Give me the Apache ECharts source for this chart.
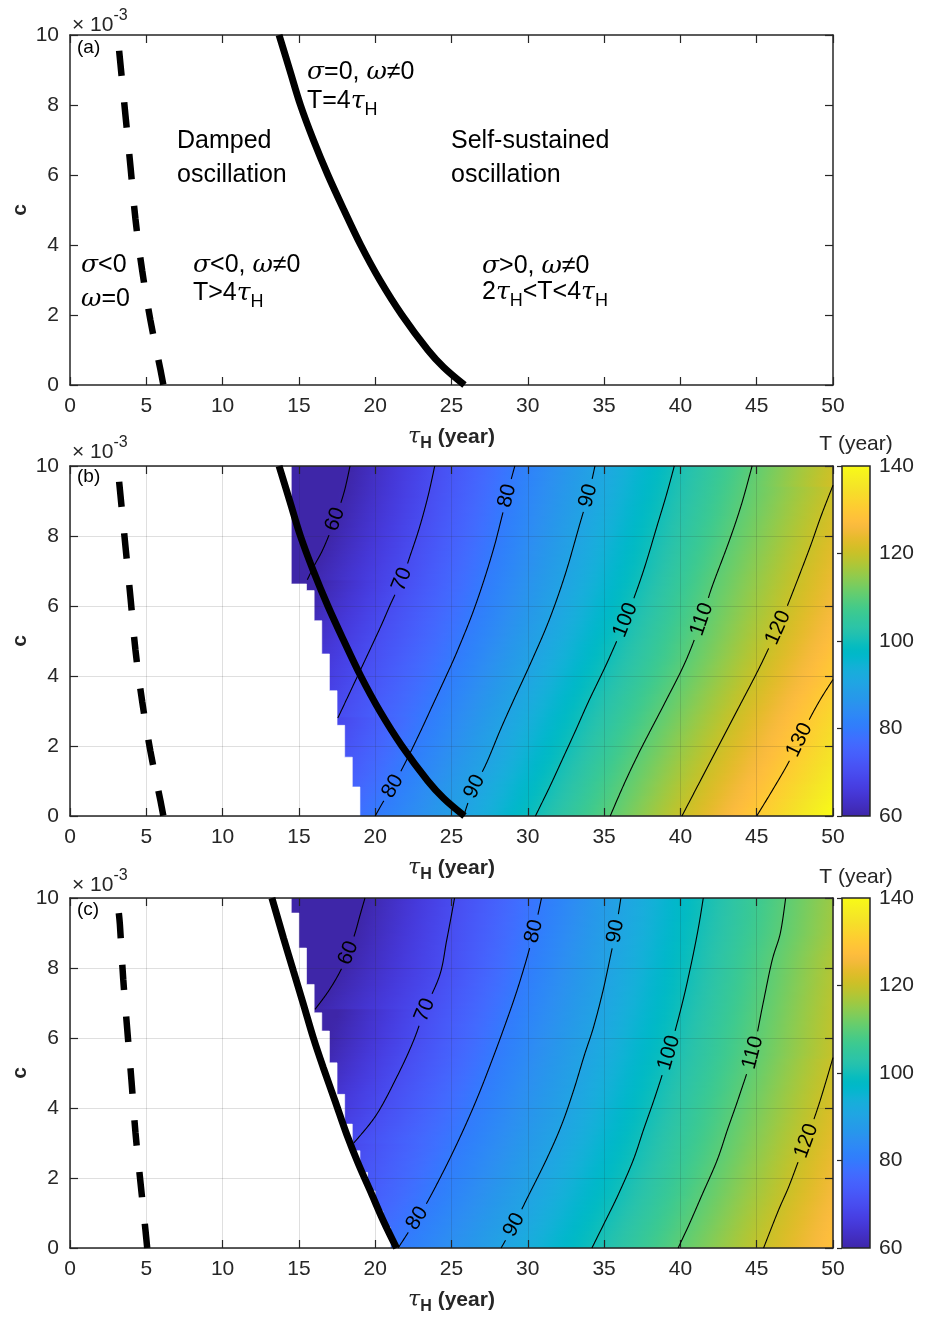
<!DOCTYPE html>
<html><head><meta charset="utf-8">
<script src="https://cdn.jsdelivr.net/npm/echarts@6.0.0/dist/echarts.min.js"></script>
<style>html,body{margin:0;padding:0;background:#fff}#chart{width:925px;height:1320px}</style>
</head><body><div id="chart"></div>
<script>
// ================= DATA =================
const tauTicksStep = 5;           // x ticks 0..50
const cTicksStep = 2;             // y ticks 0..10 (x 10^-3)
const cbarTicks = [60, 80, 100, 120, 140];

// boundary curves [tauH, c]
const dashedAB = [[3.22,9.55],[3.31,9.15],[3.64,7.68],[3.97,6.21],[4.29,4.74],[4.73,3.27],[5.27,1.85],[5.93,0.43],[6.12,0]];
const solidAB  = [[13.7,10],[14.4,9.0],[15.1,8.0],[15.95,7.0],[16.9,6.0],[17.95,5.0],[19.05,4.0],[20.3,3.0],[21.75,2.0],[23.45,1.0],[24.5,0.5],[25.85,0]];
const dashedC  = [[3.2,9.57],[3.27,9.24],[3.49,7.67],[3.75,6.25],[4.03,4.77],[4.29,3.3],[4.62,1.87],[4.95,0.49],[5.06,0]];
const solidC   = [[13.23,10],[13.99,8.86],[14.65,7.9],[15.3,6.96],[15.95,6.0],[16.6,5.15],[17.37,4.2],[18.13,3.25],[18.9,2.4],[19.77,1.54],[20.53,0.78],[21.4,0]];

// contour lines of T (year) in panel (b)
const contB60  = [[18.35,10],[18.05,9.4],[17.75,8.95],[17.37,8.48],[16.95,8.0],[16.5,7.55],[16.0,7.15],[15.55,6.75]];
const contB70  = [[23.9,10],[23.55,9.3],[23.2,8.7],[22.8,8.1],[22.3,7.45],[21.75,6.76],[21.0,6.05],[20.4,5.45],[19.6,4.7],[18.9,4.05],[18.2,3.4],[17.55,2.8]];
const contB80  = [[29.15,10],[28.9,9.6],[28.65,9.15],[28.3,8.55],[27.8,7.7],[27.1,6.7],[26.3,5.7],[25.3,4.63],[24.65,4.0],[23.8,3.2],[22.95,2.4],[22.0,1.55],[21.15,0.85],[20.45,0.35],[20.0,0]];
const contB90  = [[34.4,10],[34.2,9.6],[33.95,9.15],[33.4,8.33],[32.45,6.9],[31.4,5.6],[30.25,4.43],[29.05,3.29],[28.2,2.46],[27.28,1.5],[26.5,0.84],[26.1,0.4],[25.8,0]];
const contB100 = [[39.6,10],[39.1,9.2],[38.5,8.33],[37.5,6.9],[36.4,5.6],[35.25,4.43],[34.0,3.29],[33.15,2.46],[32.3,1.65],[31.4,0.8],[30.5,0]];
const contB110 = [[44.7,10],[44.0,8.9],[43.2,7.86],[42.05,6.52],[41.4,5.62],[40.35,4.43],[39.0,3.25],[37.45,1.95],[36.4,1.0],[35.4,0]];
const contB120 = [[50,9.45],[49.2,8.55],[48.4,7.57],[47.05,6.05],[46.4,5.38],[45.6,4.62],[44.9,4.0],[43.7,3.0],[42.5,2.0],[41.3,1.0],[40.1,0]];
const contB130 = [[50,3.9],[49.2,3.35],[48.5,2.8],[47.8,2.17],[47.05,1.5],[46.05,0.75],[45.0,0]];
const labelsB  = [[17.37,8.48,'60'],[21.75,6.76,'70'],[28.65,9.15,'80'],[33.95,9.15,'90'],[21.15,0.85,'80'],[26.5,0.84,'90'],[36.4,5.6,'100'],[41.4,5.62,'110'],[46.4,5.38,'120'],[47.8,2.17,'130']];

// contour lines of T (year) in panel (c)
const contC60  = [[19.33,10],[19.0,9.5],[18.68,9.0],[18.24,8.43],[17.7,7.9],[16.94,7.34],[16.06,6.82]];
const contC70  = [[25.2,10],[24.95,9.4],[24.67,8.76],[24.24,7.81],[23.25,6.8],[22.5,5.91],[21.5,4.96],[20.1,3.82],[18.6,3.0]];
const contC80  = [[30.9,10],[30.65,9.5],[30.4,9.05],[29.95,8.3],[29.25,7.3],[28.45,6.3],[27.6,5.3],[26.7,4.3],[25.7,3.3],[24.6,2.3],[23.4,1.3],[22.75,0.85],[22.1,0.4],[21.5,0]];
const contC90  = [[36.1,10],[35.75,9.05],[35.4,8.3],[34.9,7.3],[34.3,6.3],[33.7,5.5],[33.0,4.5],[32.2,3.5],[31.2,2.51],[29.9,1.37],[29.1,0.66],[28.25,0]];
const contC100 = [[41.5,10],[41.2,9.2],[40.75,8.2],[40.1,6.95],[39.25,5.58],[38.4,4.4],[37.6,3.4],[36.9,2.5],[35.9,1.5],[35.0,0.7],[34.2,0]];
const contC110 = [[46.9,10],[46.55,9.0],[46.0,8.2],[45.4,6.95],[44.75,5.58],[43.9,4.4],[43.1,3.4],[42.4,2.5],[41.4,1.5],[40.6,0.7],[39.85,0]];
const contC120 = [[50,5.44],[49.5,4.7],[49.0,4.0],[48.25,3.06],[47.75,2.5],[47.1,1.75],[46.4,1.05],[45.45,0]];
const labelsC  = [[18.24,8.43,'60'],[23.25,6.8,'70'],[30.4,9.05,'80'],[35.75,9.05,'90'],[22.75,0.85,'80'],[29.1,0.66,'90'],[39.25,5.58,'100'],[44.75,5.58,'110'],[48.25,3.06,'120']];

// region with no oscillation data (white): column left edge tauH and lowest coloured c
const maskTauB  = [14.5, 15.5, 16.0, 16.5, 17.0, 17.5, 18.0, 18.5, 19.0];
const maskCminB = [6.63, 6.44, 5.58, 4.63, 3.58, 2.59, 1.68, 0.83, 0.0];
const maskTauC  = [14.5, 15.0, 15.5, 16.0, 16.5, 17.0, 17.5, 18.0, 18.5, 19.0, 19.5, 20.0, 20.5, 21.0];
const maskCminC = [9.57, 8.57, 7.53, 6.72, 6.2, 5.29, 4.39, 3.54, 2.78, 2.16, 1.63, 1.06, 0.59, 0.0];

const contoursB = {60:contB60, 70:contB70, 80:contB80, 90:contB90, 100:contB100, 110:contB110, 120:contB120, 130:contB130};
const contoursC = {60:contC60, 70:contC70, 80:contC80, 90:contC90, 100:contC100, 110:contC110, 120:contC120};

// ================= STYLE =================
const PARULA = [[0.2422,0.1504,0.6603],[0.2504,0.1650,0.7076],[0.2578,0.1818,0.7511],[0.2647,0.1978,0.7952],[0.2706,0.2147,0.8364],[0.2751,0.2342,0.8710],[0.2783,0.2559,0.8991],[0.2803,0.2782,0.9221],[0.2813,0.3006,0.9414],[0.2810,0.3228,0.9579],[0.2795,0.3447,0.9717],[0.2760,0.3667,0.9829],[0.2699,0.3892,0.9906],[0.2602,0.4123,0.9952],[0.2440,0.4358,0.9988],[0.2206,0.4603,0.9973],[0.1963,0.4847,0.9892],[0.1834,0.5074,0.9798],[0.1786,0.5289,0.9682],[0.1764,0.5499,0.9520],[0.1687,0.5703,0.9359],[0.1540,0.5902,0.9218],[0.1460,0.6091,0.9079],[0.1380,0.6276,0.8973],[0.1248,0.6459,0.8883],[0.1113,0.6635,0.8763],[0.0952,0.6798,0.8598],[0.0689,0.6948,0.8394],[0.0297,0.7082,0.8163],[0.0036,0.7203,0.7917],[0.0067,0.7312,0.7660],[0.0433,0.7411,0.7394],[0.0964,0.7500,0.7120],[0.1408,0.7584,0.6842],[0.1717,0.7670,0.6554],[0.1938,0.7758,0.6251],[0.2161,0.7843,0.5923],[0.2470,0.7918,0.5567],[0.2906,0.7973,0.5188],[0.3406,0.8008,0.4789],[0.3909,0.8029,0.4354],[0.4456,0.8024,0.3909],[0.5044,0.7993,0.3480],[0.5616,0.7942,0.3045],[0.6174,0.7876,0.2612],[0.6720,0.7793,0.2227],[0.7242,0.7698,0.1910],[0.7738,0.7598,0.1646],[0.8203,0.7498,0.1535],[0.8634,0.7406,0.1596],[0.9035,0.7330,0.1774],[0.9393,0.7288,0.2100],[0.9728,0.7298,0.2394],[0.9956,0.7434,0.2371],[0.9970,0.7659,0.2199],[0.9952,0.7893,0.2028],[0.9892,0.8136,0.1885],[0.9786,0.8386,0.1766],[0.9676,0.8639,0.1643],[0.9610,0.8890,0.1537],[0.9597,0.9135,0.1423],[0.9628,0.9373,0.1265],[0.9691,0.9606,0.1064],[0.9769,0.9839,0.0805]];
const T_MIN = 60, T_MAX = 140;
function parula(T) {
  let f = (T - T_MIN) / (T_MAX - T_MIN);
  f = Math.min(1, Math.max(0, f));
  const x = f * 63, i = Math.min(62, Math.floor(x)), t = x - i;
  const a = PARULA[i], b = PARULA[i + 1];
  return 'rgb(' + [0,1,2].map(k => Math.round(255 * (a[k] + (b[k] - a[k]) * t))).join(',') + ')';
}
const sans = '"Liberation Sans", Arial, Helvetica, sans-serif';
const serif = '"DejaVu Serif", "Liberation Serif", serif';
const AX = '#262626';
const mctx = document.createElement('canvas').getContext('2d');
function measure(text, font) { mctx.font = font; return mctx.measureText(text).width; }
function txtEl(x, y, text, font, align, fill, extra) {
  return Object.assign({type:'text', x:x, y:y, z:10, silent:true,
    style:{text:text, font:font, fill:fill || '#000', align:align || 'left', textAlign:align || 'left', verticalAlign:'middle', textVerticalAlign:'middle'}}, extra || {});
}
// composite text (for Greek letters and subscripts): parts [text, font, dy]
function seq(x, y, parts, anchor, fill) {
  const w = parts.map(p => measure(p[0], p[1]));
  const total = w.reduce((a, b) => a + b, 0);
  let cx = anchor === 'center' ? x - total / 2 : x;
  return parts.map((p, i) => { const el = txtEl(cx, y + (p[2] || 0), p[0], p[1], 'left', fill); cx += w[i]; return el; });
}

// ================= LAYOUT =================
const panelTop = [35, 466, 898];
const plotLeft = 70, plotW = 763, plotH = 350;
const cbarLeft = 842, cbarW = 28;

const grids = panelTop.map(t => ({left:plotLeft, top:t, width:plotW, height:plotH, containLabel:false, outerBoundsMode:'none', show:false}));
grids.push({left:cbarLeft, top:panelTop[1], width:cbarW, height:plotH, containLabel:false, outerBoundsMode:'none', show:false});
grids.push({left:cbarLeft, top:panelTop[2], width:cbarW, height:plotH, containLabel:false, outerBoundsMode:'none', show:false});

const xAxes = [], yAxes = [];
const axLine = {show:true, onZero:false, lineStyle:{color:AX, width:1.5}};
const axTick = {show:true, inside:true, length:8, lineStyle:{color:AX, width:1.2}};
const axLab = {show:true, fontSize:21, color:AX, fontFamily:sans, showMinLabel:true, showMaxLabel:true, hideOverlap:false};
for (let p = 0; p < 3; p++) {
  const split = {show: p > 0, lineStyle:{color:'rgba(38,38,38,0.15)', width:1}};
  xAxes.push({gridIndex:p, type:'value', min:0, max:50, interval:tauTicksStep, position:'bottom', axisLine:axLine, axisTick:axTick, axisLabel:Object.assign({margin:11}, axLab), splitLine:split, z:3});
  xAxes.push({gridIndex:p, type:'value', min:0, max:50, interval:tauTicksStep, position:'top', axisLine:axLine, axisTick:axTick, axisLabel:{show:false}, splitLine:{show:false}, z:3});
  yAxes.push({gridIndex:p, type:'value', min:0, max:10, interval:cTicksStep, position:'left', axisLine:axLine, axisTick:axTick, axisLabel:Object.assign({margin:11}, axLab), splitLine:split, z:3});
  yAxes.push({gridIndex:p, type:'value', min:0, max:10, interval:cTicksStep, position:'right', axisLine:axLine, axisTick:axTick, axisLabel:{show:false}, splitLine:{show:false}, z:3});
}
for (let g = 3; g < 5; g++) {
  xAxes.push({gridIndex:g, type:'value', min:0, max:1, show:false});
  yAxes.push({gridIndex:g, type:'value', min:cbarTicks[0], max:cbarTicks[cbarTicks.length-1], interval:cbarTicks[1]-cbarTicks[0], position:'right',
    axisLine:{show:false}, axisTick:{show:true, inside:true, length:5, lineStyle:{color:AX, width:1.2}},
    axisLabel:Object.assign({margin:9}, axLab), splitLine:{show:false}, z:3});
}

// ================= SERIES BUILDERS =================
function lineS(p, data, dashed) {
  return {type:'line', xAxisIndex:2*p, yAxisIndex:2*p, data:data, symbol:'none', showSymbol:false, silent:true, z:5, smooth:0.35,
    lineStyle:{color:'#000', width: dashed ? 6.5 : 7, type: dashed ? [25, 27] : 'solid', cap:'butt'}};
}
function crossAt(poly, c) {
  for (let i = 0; i < poly.length - 1; i++) {
    const a = poly[i], b = poly[i + 1];
    if ((a[1] - c) * (b[1] - c) <= 0 && a[1] !== b[1]) return a[0] + (b[0] - a[0]) * (c - a[1]) / (b[1] - a[1]);
  }
  return null;
}
// colour field drawn as thin horizontal strips whose colour follows the contour crossings
function fillS(p, contours) {
  return {type:'custom', xAxisIndex:2*p, yAxisIndex:2*p, data:[[0,0]], silent:true, z:1, clip:true,
    renderItem: function (params, api) {
      const children = [];
      const N = 120;
      const x0 = api.coord([0, 0])[0], x1 = api.coord([50, 0])[0];
      for (let i = 0; i < N; i++) {
        const cLo = 10 * i / N, cHi = 10 * (i + 1) / N, cm = (cLo + cHi) / 2;
        const knots = [];
        Object.keys(contours).forEach(lv => { const t = crossAt(contours[lv], cm); if (t !== null) knots.push([t, +lv]); });
        knots.sort((a, b) => a[0] - b[0]);
        if (knots.length < 2) continue;
        const Tat = tau => {
          let j = 0;
          if (tau <= knots[0][0]) j = 0;
          else if (tau >= knots[knots.length - 1][0]) j = knots.length - 2;
          else { while (!(tau >= knots[j][0] && tau <= knots[j + 1][0])) j++; }
          const a = knots[j], b = knots[j + 1];
          return a[1] + (b[1] - a[1]) * (tau - a[0]) / (b[0] - a[0]);
        };
        const stops = [];
        const S = 100;
        for (let s = 0; s <= S; s++) stops.push({offset: s / S, color: parula(Tat(50 * s / S))});
        const yTop = api.coord([0, cHi])[1], yBot = api.coord([0, cLo])[1];
        children.push({type:'rect', shape:{x:x0, y:yTop - 0.4, width:x1 - x0, height:yBot - yTop + 0.8},
          style:{fill:{type:'linear', x:0, y:0, x2:1, y2:0, colorStops:stops}}});
      }
      return {type:'group', children:children};
    }};
}
function maskS(p, taus, cmins) {
  return {type:'custom', xAxisIndex:2*p, yAxisIndex:2*p, data:[[0,0]], silent:true, z:2,
    renderItem: function (params, api) {
      const pts = [[0, 0], [0, 10], [taus[0], 10]];
      for (let i = 0; i < taus.length; i++) {
        pts.push([taus[i], cmins[i]]);
        if (i + 1 < taus.length) pts.push([taus[i + 1], cmins[i]]);
      }
      pts.push([taus[taus.length - 1], 0]);
      return {type:'polygon', shape:{points: pts.map(q => api.coord(q))}, style:{fill:'#fff', stroke:'#fff', lineWidth:0.6}};
    }};
}
// Catmull-Rom densification in pixel space (smooth drawing of the read contour points)
function densify(pix) {
  const out = [];
  for (let i = 0; i < pix.length - 1; i++) {
    const p0 = pix[Math.max(0, i - 1)], p1 = pix[i], p2 = pix[i + 1], p3 = pix[Math.min(pix.length - 1, i + 2)];
    const n = Math.max(2, Math.ceil(Math.hypot(p2[0] - p1[0], p2[1] - p1[1])));
    for (let k = 0; k < n; k++) {
      const t = k / n, t2 = t * t, t3 = t2 * t;
      const f = j => 0.5 * ((2 * p1[j]) + (-p0[j] + p2[j]) * t + (2 * p0[j] - 5 * p1[j] + 4 * p2[j] - p3[j]) * t2 + (-p0[j] + 3 * p1[j] - 3 * p2[j] + p3[j]) * t3);
      out.push([f(0), f(1)]);
    }
  }
  out.push(pix[pix.length - 1]);
  return out;
}
const lblFont = '21px ' + sans;
function contS(p, contours, labels) {
  return {type:'custom', xAxisIndex:2*p, yAxisIndex:2*p, data:[[0,0]], silent:true, z:4,
    renderItem: function (params, api) {
      const children = [];
      Object.keys(contours).forEach(lv => {
        const dense = densify(contours[lv].map(q => api.coord(q)));
        const keep = dense.map(() => true);
        labels.filter(l => l[2] === lv).forEach(l => {
          const lp = api.coord([l[0], l[1]]);
          let bi = 0, bd = Infinity;
          dense.forEach((q, i) => { const d = Math.hypot(q[0] - lp[0], q[1] - lp[1]); if (d < bd) { bd = d; bi = i; } });
          const c0 = dense[bi];
          const pa = dense[Math.max(0, bi - 8)], pb = dense[Math.min(dense.length - 1, bi + 8)];
          let ang = Math.atan2(-(pb[1] - pa[1]), pb[0] - pa[0]);
          if (ang > Math.PI / 2) ang -= Math.PI;
          if (ang < -Math.PI / 2) ang += Math.PI;
          const r = measure(l[2], lblFont) / 2 + 5;
          dense.forEach((q, i) => { if (Math.hypot(q[0] - c0[0], q[1] - c0[1]) < r) keep[i] = false; });
          children.push({type:'text', x:c0[0], y:c0[1], rotation:ang,
            style:{text:l[2], font:lblFont, fill:'#000', align:'center', textAlign:'center', verticalAlign:'middle', textVerticalAlign:'middle'}});
        });
        let run = [];
        const flush = () => { if (run.length > 1) children.push({type:'polyline', shape:{points:run}, style:{stroke:'#000', lineWidth:1.1, fill:null}}); run = []; };
        dense.forEach((q, i) => { if (keep[i]) run.push(q); else flush(); });
        flush();
      });
      return {type:'group', children:children};
    }};
}
function cbarS(axisIdx) {
  return {type:'custom', xAxisIndex:axisIdx, yAxisIndex:axisIdx, data:[[0,0]], silent:true, z:1,
    renderItem: function (params, api) {
      const a = api.coord([0, T_MAX]), b = api.coord([1, T_MIN]);
      const stops = PARULA.map((c, i) => ({offset: i / 63, color: 'rgb(' + c.map(v => Math.round(v * 255)).join(',') + ')'}));
      return {type:'rect', shape:{x:a[0], y:a[1], width:b[0] - a[0], height:b[1] - a[1]},
        style:{fill:{type:'linear', x:0, y:1, x2:0, y2:0, colorStops:stops}, stroke:AX, lineWidth:1.5}};
    }};
}

const series = [
  lineS(0, dashedAB, true), lineS(0, solidAB, false),
  fillS(1, contoursB), maskS(1, maskTauB, maskCminB), contS(1, contoursB, labelsB), lineS(1, dashedAB, true), lineS(1, solidAB, false),
  fillS(2, contoursC), maskS(2, maskTauC, maskCminC), contS(2, contoursC, labelsC), lineS(2, dashedC, true), lineS(2, solidC, false),
  cbarS(6), cbarS(7)
];

// ================= TEXT =================
const G = s => 'italic ' + s + 'px ' + serif;
const Nf = s => s + 'px ' + sans;
const Bf = s => 'bold ' + s + 'px ' + sans;
const ann = 25, word = 25, sub = 18, subDy = 9;
let texts = [];
// panel (a) region annotations
texts = texts.concat(
  seq(307, 72, [['σ', G(ann)], ['=0, ', Nf(ann)], ['ω', G(ann)], ['≠0', Nf(ann)]]),
  seq(307, 101, [['T=4', Nf(ann)], ['τ', G(ann)], ['H', Nf(sub), subDy]]),
  [txtEl(177, 141, 'Damped', Nf(word)), txtEl(177, 175, 'oscillation', Nf(word)),
   txtEl(451, 141, 'Self-sustained', Nf(word)), txtEl(451, 175, 'oscillation', Nf(word))],
  seq(81, 265, [['σ', G(ann)], ['<0', Nf(ann)]]),
  seq(81, 299, [['ω', G(ann)], ['=0', Nf(ann)]]),
  seq(193, 265, [['σ', G(ann)], ['<0, ', Nf(ann)], ['ω', G(ann)], ['≠0', Nf(ann)]]),
  seq(193, 293, [['T>4', Nf(ann)], ['τ', G(ann)], ['H', Nf(sub), subDy]]),
  seq(482, 266, [['σ', G(ann)], ['>0, ', Nf(ann)], ['ω', G(ann)], ['≠0', Nf(ann)]]),
  seq(482, 292, [['2', Nf(ann)], ['τ', G(ann)], ['H', Nf(sub), subDy], ['<T<4', Nf(ann)], ['τ', G(ann)], ['H', Nf(sub), subDy]])
);
const panelLetters = ['(a)', '(b)', '(c)'];
const letterY = [48, 477, 910];
const expY = [25, 452, 885];
for (let p = 0; p < 3; p++) {
  const t = panelTop[p];
  texts.push(txtEl(77, letterY[p], panelLetters[p], Nf(19), 'left', '#000'));
  texts = texts.concat(seq(72, expY[p], [['× 10', Nf(21)], ['-3', Nf(16), -9]], 'left', AX));
  texts = texts.concat(seq(plotLeft + plotW / 2, t + plotH + 52, [['τ', G(22)], ['H', Bf(16), 7], [' (year)', Bf(21)]], 'center', AX));
  texts.push(txtEl(20, t + plotH / 2, 'c', Bf(21), 'center', AX, {rotation: Math.PI / 2}));
}
texts.push(txtEl(cbarLeft + cbarW / 2, panelTop[1] - 22, 'T (year)', Nf(21), 'center', AX));
texts.push(txtEl(cbarLeft + cbarW / 2, panelTop[2] - 21, 'T (year)', Nf(21), 'center', AX));

const chart = echarts.init(document.getElementById('chart'), null, {renderer:'canvas'});
chart.setOption({
  animation:false,
  backgroundColor:'#fff',
  textStyle:{fontFamily:sans},
  grid:grids, xAxis:xAxes, yAxis:yAxes, series:series,
  graphic:{elements:texts}
});
</script>
</body></html>
